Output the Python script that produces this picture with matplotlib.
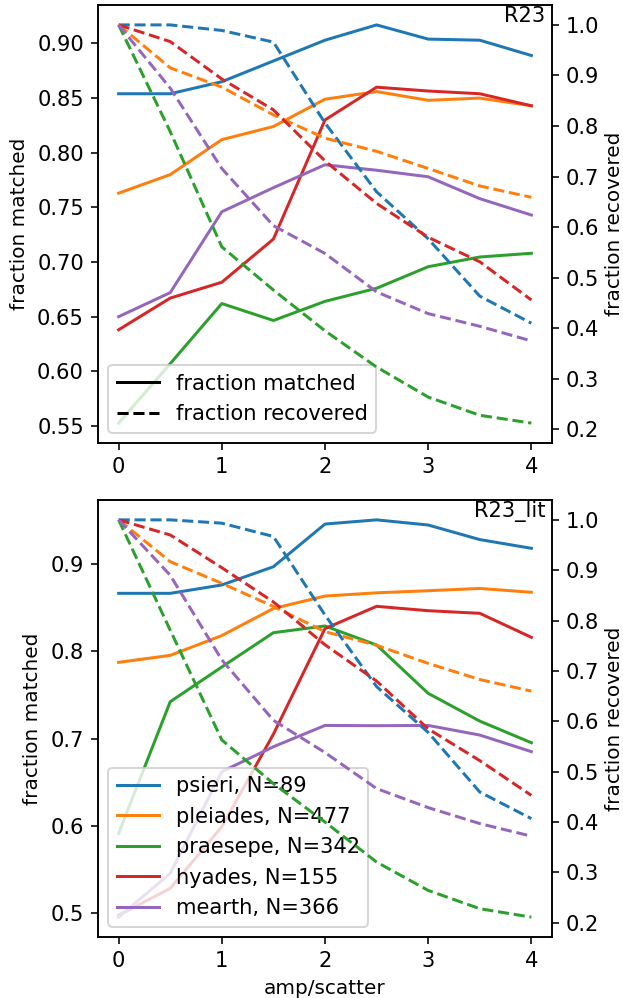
import matplotlib
matplotlib.use("Agg")
import matplotlib.pyplot as plt
from matplotlib.lines import Line2D

plt.rcParams["font.size"] = 10.5
plt.rcParams["axes.labelsize"] = 10

amp = [0, 0.5, 1, 1.5, 2, 2.5, 3, 3.5, 4]

clusters = ["psieri", "pleiades", "praesepe", "hyades", "mearth"]
n_stars = [89, 477, 342, 155, 366]

# R23 reference periods
r23_matched = {
    "psieri":   [0.854, 0.854, 0.865, 0.884, 0.903, 0.917, 0.904, 0.903, 0.889],
    "pleiades": [0.763, 0.780, 0.812, 0.824, 0.849, 0.856, 0.848, 0.850, 0.843],
    "praesepe": [0.5526, 0.607, 0.662, 0.6465, 0.664, 0.676, 0.6957, 0.7046, 0.708],
    "hyades":   [0.638, 0.667, 0.6815, 0.721, 0.830, 0.860, 0.8565, 0.854, 0.843],
    "mearth":   [0.650, 0.672, 0.746, 0.768, 0.789, 0.784, 0.778, 0.758, 0.743],
}
r23_recovered = {
    "psieri":   [1.0, 1.0, 0.989, 0.966, 0.806, 0.670, 0.577, 0.4636, 0.410],
    "pleiades": [1.0, 0.915, 0.877, 0.822, 0.776, 0.750, 0.716, 0.6815, 0.659],
    "praesepe": [1.0, 0.789, 0.561, 0.4757, 0.395, 0.3234, 0.264, 0.228, 0.2125],
    "hyades":   [1.0, 0.967, 0.893, 0.832, 0.731, 0.647, 0.580, 0.5315, 0.456],
    "mearth":   [1.0, 0.875, 0.716, 0.603, 0.548, 0.472, 0.429, 0.404, 0.375],
}

# R23_lit reference periods
lit_matched = {
    "psieri":   [0.8664, 0.8664, 0.876, 0.8969, 0.9458, 0.9506, 0.9447, 0.928, 0.918],
    "pleiades": [0.7873, 0.7953, 0.818, 0.849, 0.8633, 0.867, 0.8694, 0.872, 0.8676],
    "praesepe": [0.5913, 0.7422, 0.782, 0.8213, 0.829, 0.8072, 0.7518, 0.720, 0.6952],
    "hyades":   [0.4975, 0.5283, 0.599, 0.705, 0.826, 0.8515, 0.8465, 0.8435, 0.816],
    "mearth":   [0.4953, 0.5455, 0.662, 0.6906, 0.715, 0.7147, 0.715, 0.704, 0.685],
}
lit_recovered = {
    "psieri":   [1.0, 1.0, 0.9934, 0.967, 0.811, 0.669, 0.578, 0.4597, 0.4068],
    "pleiades": [1.0, 0.917, 0.874, 0.828, 0.778, 0.751, 0.715, 0.683, 0.660],
    "praesepe": [1.0, 0.781, 0.563, 0.4764, 0.400, 0.3206, 0.2643, 0.228, 0.2112],
    "hyades":   [1.0, 0.970, 0.905, 0.837, 0.752, 0.680, 0.585, 0.522, 0.453],
    "mearth":   [1.0, 0.890, 0.722, 0.602, 0.538, 0.4665, 0.4287, 0.397, 0.372],
}

colors = ["C0", "C1", "C2", "C3", "C4"]

fig = plt.figure(figsize=(623 / 144, 998 / 144), dpi=144)
ax_top = fig.add_axes([0.1573, 0.5561, 0.886 - 0.1573, 0.995 - 0.5561])
ax_bot = fig.add_axes([0.1573, 0.0611, 0.886 - 0.1573, 0.499 - 0.0611])

panels = [
    (ax_top, r23_matched, r23_recovered, "R23"),
    (ax_bot, lit_matched, lit_recovered, "R23_lit"),
]

for ax, matched, recovered, name in panels:
    ax2 = ax.twinx()
    for c, n, col in zip(clusters, n_stars, colors):
        ax.plot(amp, matched[c], color=col, ls="-", label=f"{c}, N={n}")
        ax2.plot(amp, recovered[c], color=col, ls="--")
    ax.set_ylabel("fraction matched")
    ax2.set_ylabel("fraction recovered", labelpad=3)
    ax.text(0.985, 0.997, name, transform=ax.transAxes, ha="right", va="top")
    ax.set_xticks([0, 1, 2, 3, 4])

style_handles = [Line2D([], [], color="k", ls="-"), Line2D([], [], color="k", ls="--")]
ax_top.legend(style_handles, ["fraction matched", "fraction recovered"], loc="lower left")
ax_bot.legend(loc="lower left")
ax_bot.set_xlabel("amp/scatter")

fig.savefig("out.png", dpi=144)
